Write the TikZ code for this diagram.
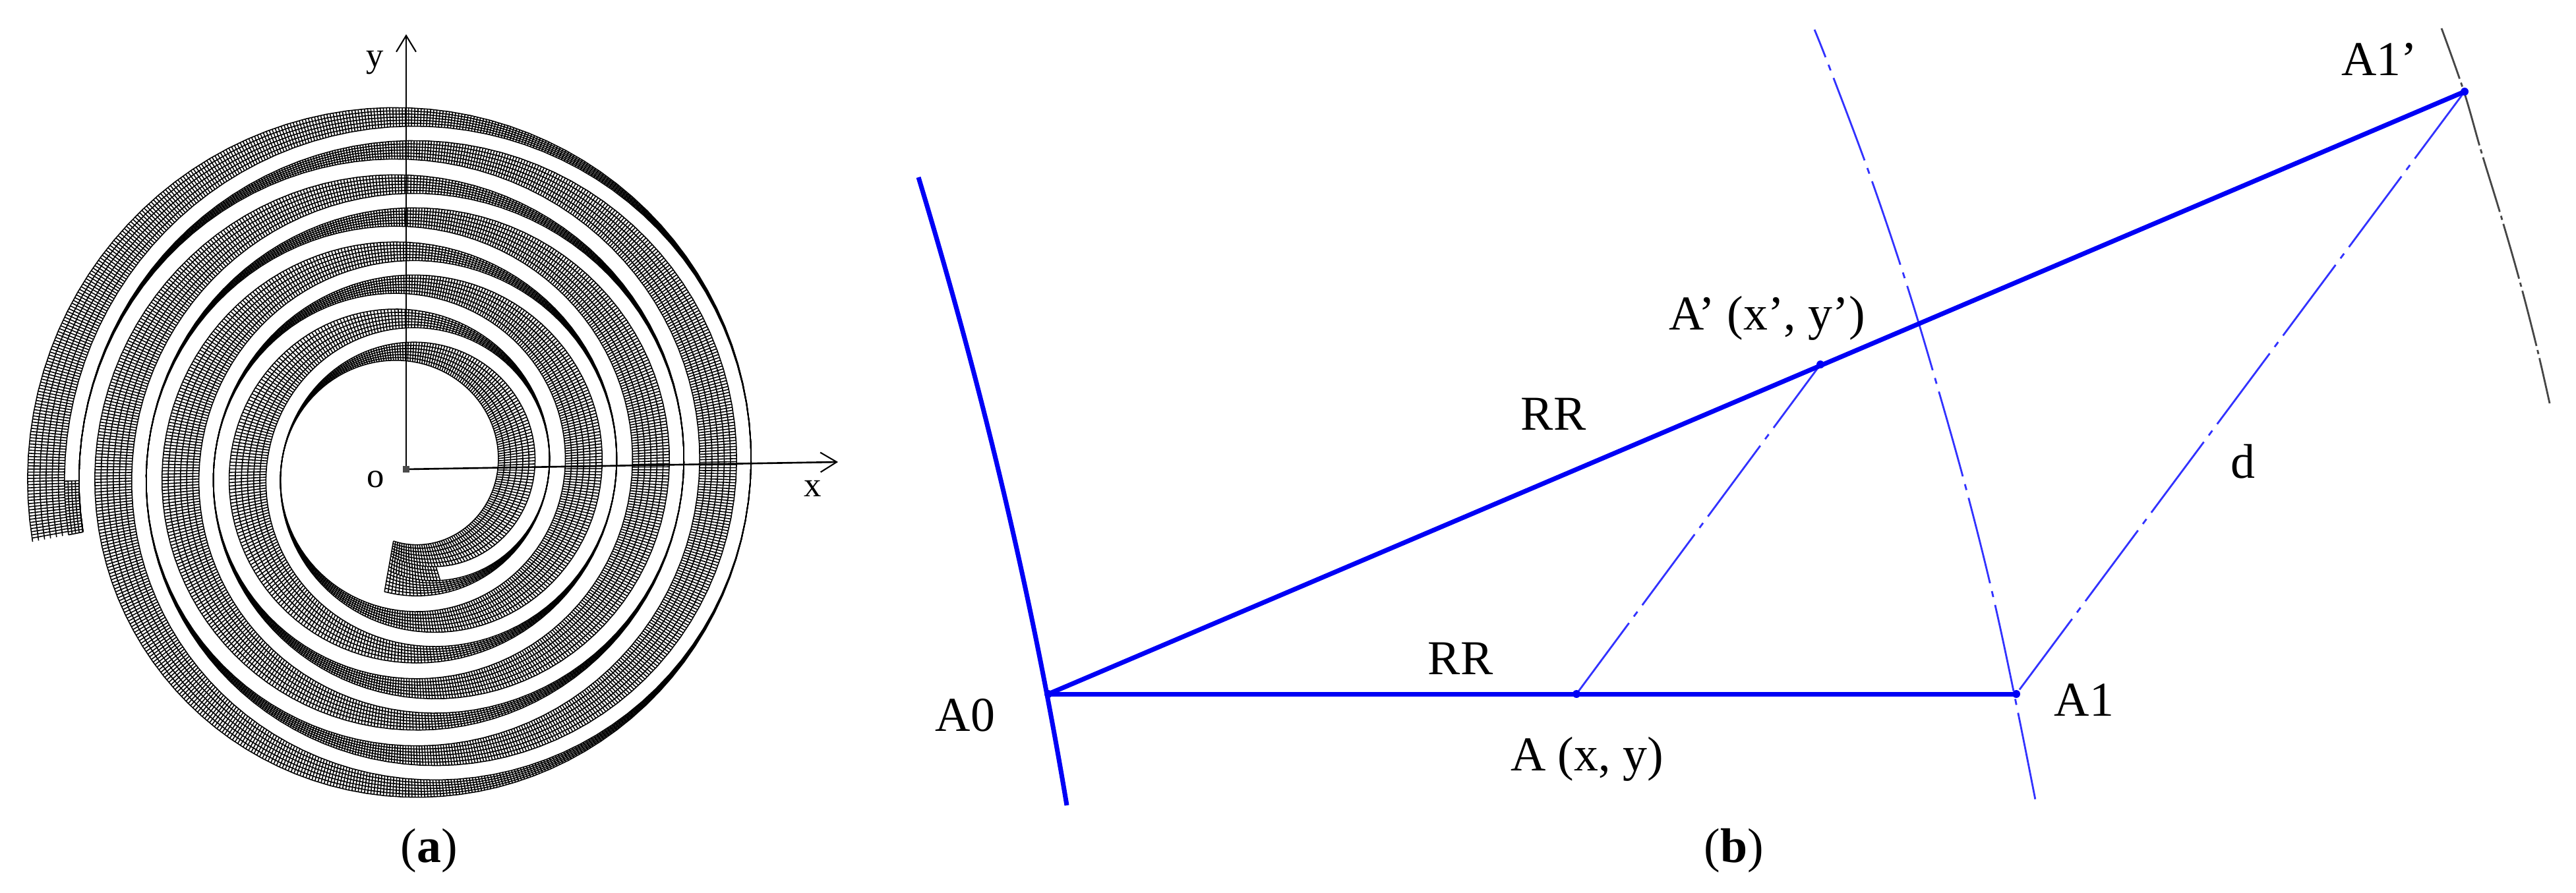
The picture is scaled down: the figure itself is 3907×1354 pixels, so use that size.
\documentclass[tikz,border=0pt]{standalone}
\usepackage{fontspec}
\setmainfont{Liberation Serif}
\usetikzlibrary{arrows.meta}
\definecolor{bblue}{RGB}{0,0,245}
\definecolor{tblue}{RGB}{50,50,255}
\definecolor{tgray}{RGB}{70,70,70}
\tikzset{
  meshline/.style={black,line width=0.45pt},
  axisline/.style={black,line width=0.75pt,-{Straight Barb[length=7pt,width=8.5pt,line width=0.6pt]}},
  thickline/.style={bblue,line width=2pt},
  thinbase/.style={tblue,line width=0.8pt,dash pattern=on 38pt off 3.5pt on 2.6pt off 3.5pt},
  grayline/.style={tgray,line width=0.8pt,dash pattern=on 24.6pt off 1.8pt on 1.8pt off 1.8pt,dash phase=1.5pt},
  dotmark/.style={circle,fill=bblue,inner sep=0pt,minimum size=3.4pt},
  smalltext/.style={inner sep=0pt,font=\fontsize{15}{15}\selectfont},
  bigtext/.style={inner sep=0pt,font=\fontsize{21}{21}\selectfont},
  captext/.style={inner sep=0pt,font=\fontsize{21}{21}\selectfont}
}
\def\cx{616}
\def\cy{712}
\pgfmathdeclarefunction{rI}{1}{\pgfmathparse{139+0.28333*#1}}
\pgfmathdeclarefunction{wA}{1}{\pgfmathparse{28*(1+cos(#1))}}
\pgfmathdeclarefunction{wB}{1}{\pgfmathparse{28*(1-cos(#1))}}
\begin{document}
\begin{tikzpicture}[x=0.01cm,y=-0.01cm]
\path[fill=white,use as bounding box] (0,0) rectangle (3907,1354);
% ---- spiral strips: lengthwise mesh lines
\foreach \f in {0,1,...,6}{
  \pgfmathsetmacro\g{\f/6}
  \draw[meshline] plot[domain=-100:1271,samples=420,variable=\t]
    ({\cx+(rI(\t)+\g*wA(\t))*cos(\t)},{\cy-(rI(\t)+\g*wA(\t))*sin(\t)});
  \draw[meshline] plot[domain=-100:1271,samples=420,variable=\t]
    ({\cx+(rI(\t)+78-\g*wB(\t))*cos(\t)},{\cy-(rI(\t)+78-\g*wB(\t))*sin(\t)});
}
% ---- cross lines of the mesh
\foreach[evaluate=\n as \t using {deg((-1.514+sqrt(2.292+0.3278*0.045*\n))/0.1639)-100}] \n in {0,1,...,1848}{
  \pgfmathsetmacro\cs{cos(\t)}
  \pgfmathsetmacro\sn{sin(\t)}
  \pgfmathsetmacro\ra{139+0.28333*\t}
  \pgfmathsetmacro\rb{\ra+28*(1+\cs)}
  \pgfmathsetmacro\rd{\ra+78}
  \pgfmathsetmacro\rc{\rd-28*(1-\cs)}
  \draw[meshline] ({\cx+\ra*\cs},{\cy-\ra*\sn}) -- ({\cx+\rb*\cs},{\cy-\rb*\sn})
                  ({\cx+\rc*\cs},{\cy-\rc*\sn}) -- ({\cx+\rd*\cs},{\cy-\rd*\sn});
}
% ---- the two closed ends of the slot
\foreach \t in {-100,-98.5,...,-73}{
  \pgfmathsetmacro\cs{cos(\t)}
  \pgfmathsetmacro\sn{sin(\t)}
  \pgfmathsetmacro\ra{139+0.28333*\t}
  \pgfmathsetmacro\rb{\ra+28*(1+\cs)}
  \pgfmathsetmacro\rd{\ra+78}
  \pgfmathsetmacro\rc{\rd-28*(1-\cs)}
  \draw[meshline] ({\cx+\rb*\cs},{\cy-\rb*\sn}) -- ({\cx+\rc*\cs},{\cy-\rc*\sn});
}
\foreach \t in {1262,1262.5,...,1271}{
  \pgfmathsetmacro\cs{cos(\t)}
  \pgfmathsetmacro\sn{sin(\t)}
  \pgfmathsetmacro\ra{139+0.28333*\t}
  \pgfmathsetmacro\rb{\ra+28*(1+\cs)}
  \pgfmathsetmacro\rd{\ra+78}
  \pgfmathsetmacro\rc{\rd-28*(1-\cs)}
  \draw[meshline] ({\cx+\rb*\cs},{\cy-\rb*\sn}) -- ({\cx+\rc*\cs},{\cy-\rc*\sn});
}
\foreach \f in {0.25,0.5,0.75}{
  \draw[meshline] plot[domain=-100:-73,samples=10,variable=\t]
    ({\cx+((1-\f)*(rI(\t)+wA(\t))+\f*(rI(\t)+78-wB(\t)))*cos(\t)},{\cy-((1-\f)*(rI(\t)+wA(\t))+\f*(rI(\t)+78-wB(\t)))*sin(\t)});
  \draw[meshline] plot[domain=1262:1271,samples=5,variable=\t]
    ({\cx+((1-\f)*(rI(\t)+wA(\t))+\f*(rI(\t)+78-wB(\t)))*cos(\t)},{\cy-((1-\f)*(rI(\t)+wA(\t))+\f*(rI(\t)+78-wB(\t)))*sin(\t)});
}
% ---- axes of panel a
\coordinate (O) at (616,712);
\coordinate (yend) at (616,52);
\coordinate (xend) at (1271,701);
\draw[axisline] (O) -- (yend);
\draw[axisline] (O) -- (xend);
\node[fill=black!70,inner sep=0pt,minimum size=3pt] (osq) at (O) {};
\node[smalltext] (ylab) at (569,95) {y};
\node[smalltext] (olab) at (570,727) {o};
\node[smalltext] (xlab) at (1233,741) {x};
\node[captext] (capa) at (651,1291) {(\textbf{a})};
% ---- panel b
\coordinate (A0) at (1590,1053);
\coordinate (A1) at (3058,1053);
\coordinate (A) at (2391,1053);
\coordinate (Ap) at (2761,553);
\coordinate (A1p) at (3738,139);
\coordinate (c0s) at (1393,269);
\coordinate (c0e) at (1618,1222);
\draw[thickline] (c0s) .. controls (1488,583) and (1563,892) .. (c0e);
\draw[thinbase,dash phase=25.2pt] plot[smooth,tension=0.6] coordinates {(2752,45) (2775,103) (2835,263) (2892,432) (2940,592) (2985,753) (3025,914) (3060,1078) (3089,1224)};
\draw[grayline] plot[smooth,tension=0.6] coordinates {(3703,43) (3737,139) (3763,229) (3793,327) (3822,428) (3848,529) (3867,612)};
\draw[thinbase,dash phase=4pt] (Ap) -- (A);
\draw[thinbase,dash phase=2pt] (A1p) -- (A1);
\draw[thickline] (A0) -- (A1);
\draw[thickline] (A0) -- (A1p);
\node[dotmark] (d1) at (A) {};
\node[dotmark] (d2) at (A1) {};
\node[dotmark] (d3) at (Ap) {};
\node[dotmark] (d4) at (A1p) {};
\node[dotmark] (d0) at (A0) {};
\node[bigtext] (lA1p) at (3609,90) {A1’};
\node[bigtext] (lAp) at (2680,483) {A’ (x’, y’)};
\node[bigtext] (lRR1) at (2356,628) {RR};
\node[bigtext] (lRR2) at (2215,999) {RR};
\node[bigtext] (lA0) at (1464,1085) {A0};
\node[bigtext] (lA1) at (3161,1062) {A1};
\node[bigtext] (lA) at (2407,1152) {A (x, y)};
\node[bigtext] (ld) at (3402,700) {d};
\node[captext] (capb) at (2630,1291) {(\textbf{b})};
\end{tikzpicture}
\end{document}
